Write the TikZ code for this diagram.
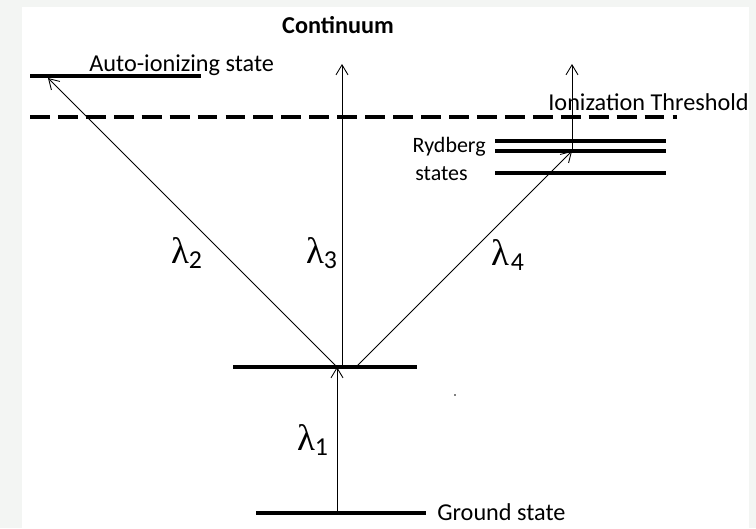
\documentclass[tikz,border=0pt]{standalone}
\usepackage{fontspec}
\setmainfont{Carlito}
\newfontfamily\lamfont{Liberation Serif}
\usetikzlibrary{arrows.meta}
\definecolor{bggray}{RGB}{243,245,243}

\begin{document}
\begin{tikzpicture}[x=0.02cm, y=-0.02cm,
    level/.style={line width=1.8pt},
    beam/.style={line width=0.5pt, -{Straight Barb[length=2mm,width=2.4mm]}},
    lbl/.style={font=\fontsize{13.8}{16}\selectfont, inner sep=0pt},
    slbl/.style={font=\fontsize{12.5}{14}\selectfont, inner sep=0pt},
    wl/.style={font=\fontsize{21}{24}\selectfont, inner sep=0pt}]
    % Fond
    \useasboundingbox (0,0) rectangle (756,528);
    \fill[bggray] (0,0) rectangle (756,528);
    \fill[white] (22,7) rectangle (749,528);

    % Points des transitions
    \coordinate (g) at (337,513);
    \coordinate (m) at (337,367);
    \coordinate (m3) at (342,367);
    \coordinate (m4) at (357,366);
    \coordinate (ai) at (48,78);
    \coordinate (c3) at (342,64);
    \coordinate (ry) at (572,151);
    \coordinate (c4) at (572,64);

    % Niveaux d'énergie
    \draw[level] (256,513) -- (426,513);
    \draw[level] (233,367) -- (417,367);
    \draw[level] (30,76) -- (201,76);
    \draw[level] (495,141) -- (666,141);
    \draw[level] (495,151) -- (666,151);
    \draw[level] (495,173) -- (666,173);
    \draw[line width=2pt, dash pattern=on 11.3pt off 4.6pt] (30,117) -- (677,117);

    % Transitions
    \draw[beam] (g) -- (m);
    \draw[beam] (m) -- (ai);
    \draw[beam] (m3) -- (c3);
    \draw[beam] (m4) -- (ry);
    \draw[beam] (ry) -- (c4);

    % Légendes
    \node[lbl, font=\bfseries\fontsize{13.8}{16}\selectfont, anchor=base] (cont) at (338,33) {Continuum};
    \node[lbl, anchor=base west] (auto) at (89,71) {Auto-ionizing state};
    \node[lbl, anchor=base west] (thr) at (548,110) {Ionization Threshold};
    \node[slbl, anchor=base east] (ryd) at (486,152) {Rydberg};
    \node[slbl, anchor=base west] (sts) at (415,180) {states};
    \node[lbl, anchor=base west] (gs) at (437,520) {Ground state};

    % Longueurs d'onde
    \node[wl] (l1) at (313,440) {{\lamfont λ}\textsubscript{1}};
    \node[wl] (l2) at (187,253) {{\lamfont λ}\textsubscript{2}};
    \node[wl] (l3) at (322,253) {{\lamfont λ}\textsubscript{3}};
    \node[wl] (l4) at (508,255) {{\lamfont λ}\kern1pt\textsubscript{4}};

    \fill (455,395) circle (0.8);
\end{tikzpicture}
\end{document}
